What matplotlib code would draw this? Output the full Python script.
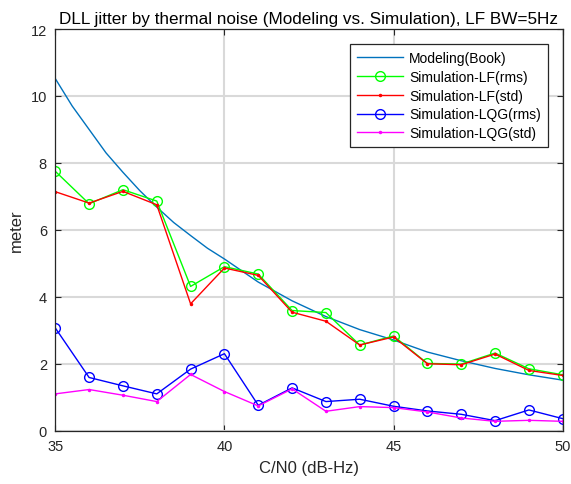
import matplotlib
matplotlib.use("Agg")
import matplotlib.pyplot as plt

cn0 = [35, 36, 37, 38, 39, 40, 41, 42, 43, 44, 45, 46, 47, 48, 49, 50]
model_cn0 = [35, 35.5, 36, 36.5, 37, 37.5, 38, 38.5, 39, 39.5, 40, 41, 42, 43, 44, 45, 46, 47, 48, 49, 50]
modeling = [10.52, 9.7, 9.0, 8.3, 7.72, 7.17, 6.68, 6.22, 5.83, 5.45, 5.13,
            4.44, 3.88, 3.41, 3.02, 2.71, 2.35, 2.09, 1.86, 1.67, 1.51]
lf_rms = [7.75, 6.78, 7.20, 6.86, 4.31, 4.90, 4.68, 3.59, 3.53, 2.56, 2.83, 2.01, 1.99, 2.32, 1.85, 1.67]
lf_std = [7.14, 6.80, 7.15, 6.75, 3.79, 4.86, 4.64, 3.54, 3.27, 2.56, 2.80, 2.00, 1.97, 2.29, 1.80, 1.65]
lqg_rms = [3.07, 1.59, 1.34, 1.10, 1.84, 2.30, 0.76, 1.28, 0.87, 0.94, 0.73, 0.59, 0.49, 0.30, 0.62, 0.36]
lqg_std = [1.10, 1.23, 1.06, 0.87, 1.68, 1.17, 0.74, 1.25, 0.58, 0.72, 0.69, 0.56, 0.38, 0.28, 0.31, 0.28]

labels = ["Modeling(Book)", "Simulation-LF(rms)", "Simulation-LF(std)",
          "Simulation-LQG(rms)", "Simulation-LQG(std)"]
xticks = [35, 40, 45, 50]
yticks = [0, 2, 4, 6, 8, 10, 12]

plt.rcParams['font.family'] = ['Liberation Sans', 'DejaVu Sans']

fig = plt.figure(figsize=(5.71, 4.85), dpi=100)
ax = fig.add_axes([0.0968, 0.1099, 0.8887, 0.8282])

axcol = (0.15, 0.15, 0.15)
ax.plot(model_cn0, modeling, color=(0, 0.447, 0.741), lw=1.0, label=labels[0])
ax.plot(cn0, lf_rms, color=(0, 1, 0), lw=1.0, marker='o', ms=7, mfc='none', mew=1.0, label=labels[1])
ax.plot(cn0, lf_std, color=(1, 0, 0), lw=1.0, marker='.', ms=3, label=labels[2])
ax.plot(cn0, lqg_rms, color=(0, 0, 1), lw=1.0, marker='o', ms=7, mfc='none', mew=1.0, label=labels[3])
ax.plot(cn0, lqg_std, color=(1, 0, 1), lw=1.0, marker='.', ms=3, label=labels[4])

ax.set_xlim(35, 50)
ax.set_ylim(0, 12)
ax.set_xticks(xticks)
ax.set_yticks(yticks)
ax.grid(True, color=(0.85, 0.85, 0.85), lw=1.5)
ax.set_axisbelow(True)
ax.tick_params(direction='in', top=True, right=True, length=4, colors=axcol,
               labelsize=10.5, labelcolor=axcol, pad=6)
for s in ax.spines.values():
    s.set_color(axcol)
    s.set_linewidth(0.9)

ax.set_xlabel("C/N0 (dB-Hz)", fontsize=12, color=axcol, labelpad=5)
ax.set_ylabel("meter", fontsize=12, color=axcol, labelpad=5)
ax.set_title("DLL jitter by thermal noise (Modeling vs. Simulation), LF BW=5Hz",
             fontsize=12.3, color='black', pad=4)

leg = ax.legend(loc='upper right', bbox_to_anchor=(0.971, 0.963), borderaxespad=0,
                fontsize=10, fancybox=False, framealpha=1, edgecolor=axcol,
                handlelength=3.3, handletextpad=0.45, labelspacing=0.35,
                borderpad=0.5)
leg.get_frame().set_linewidth(0.9)

fig.savefig("out.png", dpi=100)
